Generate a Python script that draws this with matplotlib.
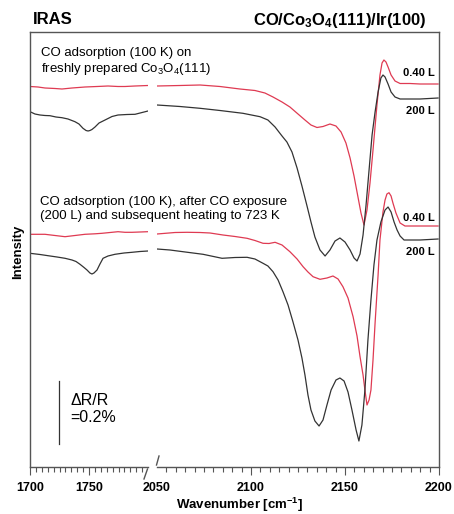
"""IRAS spectra of CO on Co3O4(111)/Ir(100), broken wavenumber axis."""

import matplotlib

matplotlib.use("Agg")

import matplotlib.pyplot as plt
import numpy as np
from matplotlib.lines import Line2D

plt.rcParams["font.family"] = ["Liberation Sans", "DejaVu Sans"]
plt.rcParams["mathtext.fontset"] = "custom"
plt.rcParams["mathtext.rm"] = "Liberation Sans"
plt.rcParams["mathtext.it"] = "Liberation Sans:italic"
plt.rcParams["mathtext.bf"] = "Liberation Sans:bold"

# intensity in arbitrary units (offset traces), wavenumber in cm^-1
# --- freshly prepared Co3O4(111) ---
fresh_040_low_wn = [1700, 1706.8, 1712.7, 1721.2, 1727.1, 1735.6, 1746.6, 1756.8, 1766.1, 1774.6, 1780.5, 1789, 1800]
fresh_040_low = [380.5, 380, 379, 378.5, 378, 379, 380, 380.5, 381, 380.5, 380.5, 381, 381.5]
fresh_040_high_wn = [2050, 2062.2, 2072.9, 2083.5, 2094.1, 2102.1, 2107.4, 2111.7, 2116.5, 2120.7,
                     2125, 2128.7, 2131.9, 2135.1, 2138.3, 2142, 2145.2, 2147.9, 2150.5, 2152.7,
                     2154.8, 2156.9, 2158.5, 2160.1, 2161.7, 2163.3, 2164.9, 2167, 2168.6, 2169.7,
                     2170.7, 2171.8, 2172.9, 2174.5, 2176.6, 2179.3, 2184.6, 2189.9, 2199.5]
fresh_040_high = [381, 381.5, 382, 380.5, 378, 376.5, 374, 370, 365, 360,
                  353, 347, 342, 339.5, 340.5, 343, 341, 335, 324, 309,
                  291, 270, 254, 242, 257, 284, 317, 362, 392, 404,
                  407, 405, 400, 392, 386, 383.5, 383.5, 383, 383]

fresh_200_low_wn = [1700, 1704.2, 1708.5, 1712.7, 1716.9, 1722, 1727.1, 1732.2, 1738.1, 1741.5, 1744.9, 1747.5,
                    1749.2, 1750.8, 1752.5, 1755.1, 1758.5, 1763.6, 1769.5, 1774.6, 1782.2, 1789, 1800]
fresh_200_low = [355.3, 353, 352, 351.5, 351.3, 350, 349.3, 348, 345.3, 343, 338.7, 336.5,
                 336, 336.5, 337.5, 340, 344, 347, 350.5, 352, 352.5, 352.7, 356]
fresh_200_high_wn = [2050, 2062.2, 2072.9, 2083.5, 2095.7, 2104.8, 2109, 2112.8, 2116.5, 2119.1,
                     2121.8, 2124.5, 2127.1, 2129.8, 2131.9, 2134, 2136.7, 2139.4, 2142, 2144.7,
                     2147.3, 2150, 2152.7, 2154.8, 2156.4, 2158, 2159.6, 2161.2, 2162.8, 2164.4,
                     2166, 2167.6, 2169.1, 2170.2, 2171.3, 2172.9, 2174.5, 2176.6, 2179.3, 2189.9, 2199.5]
fresh_200_high = [362, 360.5, 358.7, 356.5, 353.7, 350.3, 347, 340, 331, 325,
                  315, 299, 281, 261, 245, 230, 217, 211, 217, 226,
                  229, 225, 217, 209, 206, 213, 232, 262, 297, 332,
                  355, 375, 389, 392, 390, 383, 375, 370, 368, 368, 369]

# --- after CO exposure (200 L) and heating to 723 K ---
heated_040_low_wn = [1700, 1712.7, 1721.2, 1729.7, 1738.1, 1746.6, 1755.1, 1761, 1767.8, 1774.6, 1780.5, 1786.4, 1800]
heated_040_low = [232.7, 232.7, 231.5, 230.3, 231.5, 232.7, 233.2, 233.7, 234.5, 235.3, 234.7, 234.7, 235.3]
heated_040_high_wn = [2050, 2059.6, 2066, 2072.9, 2078.2, 2085.1, 2091.5, 2097.9, 2102.1, 2106.4,
                      2109.6, 2112.8, 2116.5, 2120.7, 2124.5, 2127.7, 2130.3, 2133, 2136.7, 2140.4,
                      2143.6, 2146.3, 2148.9, 2151.6, 2154.3, 2156.4, 2158, 2159.6, 2160.6, 2161.7,
                      2162.8, 2163.8, 2164.9, 2166, 2167.6, 2168.6, 2170.2, 2171.3, 2172.3, 2173.4,
                      2174.5, 2175.5, 2177.1, 2179.3, 2181.9, 2189.9, 2199.5]
heated_040_high = [233, 234.5, 234.7, 234.5, 234, 232, 230.5, 228.7, 226.5, 223.7,
                   223.5, 224.7, 222, 215.3, 208, 200.3, 195, 190.3, 187.7, 189,
                   191, 188, 180.3, 169, 150.3, 131, 110.3, 92, 77, 62,
                   67, 77, 107, 144, 192, 227, 255, 267, 273, 274.3,
                   271, 264, 254, 244, 241, 241, 241]

heated_200_low_wn = [1700, 1708.5, 1715.3, 1722.9, 1729.7, 1735.6, 1739, 1742.4, 1745.8, 1748.3, 1750.8,
                     1752.5, 1754.2, 1756.8, 1759.3, 1761.9, 1766.1, 1772, 1779.7, 1786.4, 1793.2, 1800]
heated_200_low = [213.7, 212.5, 211.3, 210, 208.7, 207, 205.5, 202.7, 199.5, 197, 194,
                  193, 194, 197, 203, 208.7, 211, 212.7, 214, 214.7, 215.5, 216]
heated_200_high_wn = [2050, 2056.9, 2063.8, 2074.5, 2084.6, 2091.5, 2097.9, 2102.1, 2106.4, 2109,
                      2111.7, 2114.4, 2117, 2119.7, 2122.3, 2125, 2127.1, 2128.7, 2130.3, 2131.9,
                      2134, 2136.2, 2138.3, 2140.4, 2142.6, 2145.2, 2147.3, 2149.5, 2151.6, 2153.7,
                      2155.9, 2157.4, 2159, 2160.6, 2162.2, 2163.8, 2165.4, 2167, 2169.1, 2171.3,
                      2172.9, 2174.5, 2176.1, 2177.7, 2179.3, 2181.4, 2189.9, 2199.5]
heated_200_high = [218, 217, 215.3, 212.7, 208.7, 209.5, 209.7, 208, 203.7, 201,
                   195.3, 187, 175.3, 162, 145.3, 127, 109, 92, 72, 57,
                   46, 41, 47, 62, 77, 87, 89, 86, 75, 57,
                   37, 26, 42, 77, 127, 167, 202, 227, 245, 257,
                   260, 255, 245, 237, 231, 227, 227, 228]

# exposure labels and their heights (right edge)
exposure_labels = ["0.40 L", "200 L", "0.40 L", "200 L"]
exposure_label_y = [394, 356, 249, 215]

# scale bar: dR/R = 0.2 %
scale_bar_wn = 1724.6
scale_bar_y = [23, 86]

left_xlim = (1700, 1800)
right_xlim = (2050, 2200)
ylim = (0, 435)

RED = "#df3a52"
BLACK = "#333333"
FRAME = "#555555"

W, H = 454, 514


def fx(px):
    return px / W


def fy(py):
    return 1 - py / H


fig = plt.figure(figsize=(W / 100, H / 100), dpi=100)
ax1 = fig.add_axes([fx(30), fy(467), fx(148) - fx(30), fy(32) - fy(467)])
ax2 = fig.add_axes([fx(157), fy(467), fx(439) - fx(157), fy(32) - fy(467)])

traces = [
    (fresh_040_low_wn, fresh_040_low, fresh_040_high_wn, fresh_040_high, RED),
    (fresh_200_low_wn, fresh_200_low, fresh_200_high_wn, fresh_200_high, BLACK),
    (heated_040_low_wn, heated_040_low, heated_040_high_wn, heated_040_high, RED),
    (heated_200_low_wn, heated_200_low, heated_200_high_wn, heated_200_high, BLACK),
]
for wn_lo, y_lo, wn_hi, y_hi, color in traces:
    ax1.plot(wn_lo, y_lo, color=color, lw=0.9)
    ax2.plot(wn_hi, y_hi, color=color, lw=0.9)

for ax, xlim in ((ax1, left_xlim), (ax2, right_xlim)):
    ax.set_xlim(*xlim)
    ax.set_ylim(*ylim)
    ax.set_yticks([])
    ax.spines["top"].set_visible(False)
    for side in ("left", "right", "bottom"):
        ax.spines[side].set_color(FRAME)
        ax.spines[side].set_linewidth(1.0)
    ax.tick_params(axis="x", which="major", direction="out", length=5.5, width=0.8,
                   color=FRAME, pad=5, labelsize=9)
    ax.tick_params(axis="x", which="minor", direction="out", length=3.5, width=0.8, color=FRAME)

ax1.spines["right"].set_visible(False)
ax2.spines["left"].set_visible(False)

ax1.set_xticks([1700, 1750])
ax1.set_xticks(np.arange(1705, 1800, 5), minor=True)
ax2.set_xticks([2050, 2100, 2150, 2200])
ax2.set_xticks(np.arange(2055, 2200, 5), minor=True)
ax2.xaxis.get_major_ticks()[0].tick1line.set_visible(False)
for ax in (ax1, ax2):
    for label in ax.get_xticklabels():
        label.set_fontweight("bold")

# top frame line bridging the break, and the break slashes
fig.add_artist(Line2D([fx(30), fx(439)], [fy(32), fy(32)], color=FRAME, lw=1.0))
fig.add_artist(Line2D([fx(144), fx(147.5)], [fy(479), fy(469)], color=FRAME, lw=1.0))
fig.add_artist(Line2D([fx(156.5), fx(159)], [fy(465), fy(456)], color=FRAME, lw=1.0))

for label, y in zip(exposure_labels, exposure_label_y):
    ax2.text(2197.8, y, label, ha="right", va="center", fontsize=8, fontweight="bold")

ax1.plot([scale_bar_wn, scale_bar_wn], scale_bar_y, color=BLACK, lw=0.9)
ax1.text(1733.9, 58, "\u0394R/R\n=0.2%", fontsize=11.5, ha="left", va="center",
         linespacing=1.15, clip_on=False)

fig.text(fx(33), fy(20), "IRAS", fontsize=12, fontweight="bold", ha="left", va="center")
fig.text(fx(426), fy(20), r"CO/Co$_\mathbf{3}$O$_\mathbf{4}$(111)/Ir(100)", fontsize=12,
         fontweight="bold", ha="right", va="center")

fig.text(fx(41), fy(62), "CO adsorption (100 K) on\nfreshly prepared Co$_3$O$_4$(111)",
         fontsize=9.5, ha="left", va="center", linespacing=1.2)
fig.text(fx(40), fy(209), "CO adsorption (100 K), after CO exposure\n(200 L) and subsequent heating to 723 K",
         fontsize=9.5, ha="left", va="center", linespacing=1.2)

fig.text(fx(18), fy(252), "Intensity", rotation=90, fontsize=9.5, fontweight="bold",
         ha="center", va="center")
fig.text(fx(240), fy(509), r"Wavenumber [cm$^{\mathbf{-1}}$]", fontsize=9.5, fontweight="bold",
         ha="center", va="baseline")

fig.savefig("out.png", dpi=100)
